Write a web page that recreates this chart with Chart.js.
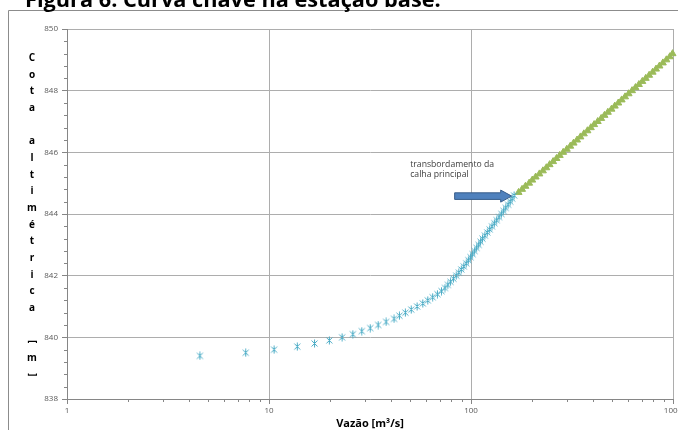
<!DOCTYPE html>
<html>
<head>
<meta charset="utf-8">
<script src="https://cdn.jsdelivr.net/npm/chart.js@4/dist/chart.umd.min.js"></script>
<style>
  html, body { margin: 0; padding: 0; background: #ffffff; }
  canvas { display: block; }
</style>
</head>
<body>
<canvas id="chart" width="678" height="430"></canvas>
<script>
// Stage (m) and discharge (m³/s) of the rating curve, main channel
const stageChannel = [
  839.4, 839.5, 839.6, 839.7, 839.8, 839.9, 840.0, 840.1, 840.2, 840.3,
  840.4, 840.5, 840.6, 840.7, 840.8, 840.9, 841.0, 841.1, 841.2, 841.3,
  841.4, 841.5, 841.6, 841.7, 841.8, 841.9, 842.0, 842.1, 842.2, 842.3,
  842.4, 842.5, 842.6, 842.7, 842.8, 842.9, 843.0, 843.1, 843.2, 843.3,
  843.4, 843.5, 843.6, 843.7, 843.8, 843.9, 844.0, 844.1, 844.2, 844.3,
  844.4, 844.5, 844.6
];
const flowChannel = [
  4.55, 7.67, 10.6, 13.8, 16.8, 19.9, 23.0, 26.0, 28.8, 31.7,
  34.7, 38.0, 41.6, 44.2, 47.3, 50.6, 54.1, 57.7, 61.1, 64.6,
  68.2, 71.4, 74.3, 76.8, 79.2, 81.8, 84.5, 87.0, 89.5, 92.1,
  94.7, 97.0, 99.5, 101.8, 104.2, 106.6, 109.1, 111.5, 114.0, 117.1,
  120.4, 123.7, 127.0, 130.5, 134.0, 137.6, 141.3, 145.0, 148.6, 152.6,
  156.4, 159.9, 163.4
];

// Stage and discharge above bankfull (overflow of the main channel)
const stageOverflow = [
  844.7, 844.8, 844.9, 845.0, 845.1, 845.2, 845.3, 845.4, 845.5, 845.6,
  845.7, 845.8, 845.9, 846.0, 846.1, 846.2, 846.3, 846.4, 846.5, 846.6,
  846.7, 846.8, 846.9, 847.0, 847.1, 847.2, 847.3, 847.4, 847.5, 847.6,
  847.7, 847.8, 847.9, 848.0, 848.1, 848.2, 848.3, 848.4, 848.5, 848.6,
  848.7, 848.8, 848.9, 849.0, 849.1, 849.2
];
const flowOverflow = [
  172, 179, 186, 194, 201, 209, 218, 227, 236, 245,
  255, 265, 275, 286, 298, 310, 322, 335, 348, 362,
  377, 392, 407, 424, 441, 458, 476, 496, 515, 536,
  557, 579, 603, 627, 652, 678, 705, 733, 762, 793,
  824, 857, 891, 927, 964, 995
];

// Axis ticks
const stageTicks = [838, 840, 842, 844, 846, 848, 850];
const flowTicks = [1, 10, 100, 1000];

// Texts
const figureTitle = 'Figura 6. Curva chave na estação base.';
const yTitle = 'Cota altimétrica [m]';
const xTitle = 'Vazão [m³/s]';
const noteLines = ['transbordamento da', 'calha principal'];

// Arrow / note anchors in data units
const noteAnchor = { q: 50, h: [845.62, 845.28] };
const arrowSpan = { qFrom: 83, qTo: 159, h: 844.58 };

// Star marker: an X crossed by a vertical stroke
const starMarker = (() => {
  const c = document.createElement('canvas');
  c.width = 9; c.height = 9;
  const g = c.getContext('2d');
  g.strokeStyle = '#4BACC6';
  g.lineWidth = 1;
  g.beginPath();
  g.moveTo(1.5, 1.5); g.lineTo(7.5, 7.5);
  g.moveTo(7.5, 1.5); g.lineTo(1.5, 7.5);
  g.moveTo(4.5, 0.5); g.lineTo(4.5, 8.5);
  g.stroke();
  return c;
})();

const decorations = {
  id: 'decorations',
  beforeDraw(chart) {
    const ctx = chart.ctx;
    ctx.save();
    ctx.fillStyle = '#ffffff';
    ctx.fillRect(0, 0, chart.width, chart.height);
    // outer frame
    ctx.strokeStyle = '#8C8C8C';
    ctx.lineWidth = 1;
    ctx.beginPath();
    ctx.moveTo(8.5, 430);
    ctx.lineTo(8.5, 10.5);
    ctx.lineTo(678, 10.5);
    ctx.stroke();
    // figure caption
    const probe = 'Figura 6. Curva chave na estação b';
    ctx.font = 'bold 20px "Open Sans"';
    const size = 20 * 373 / ctx.measureText(probe).width;
    ctx.font = 'bold ' + size.toFixed(2) + 'px "Open Sans"';
    ctx.fillStyle = '#000000';
    ctx.textBaseline = 'alphabetic';
    ctx.textAlign = 'left';
    ctx.fillText(figureTitle, 25, 6.5);
    ctx.restore();
  },
  afterDraw(chart) {
    const ctx = chart.ctx;
    const xs = chart.scales.x, ys = chart.scales.y;
    const area = chart.chartArea;
    ctx.save();
    // minor ticks
    ctx.strokeStyle = '#868686';
    ctx.lineWidth = 1;
    ctx.beginPath();
    for (const d of [1, 10, 100]) {
      for (let m = 2; m <= 9; m++) {
        const px = Math.round(xs.getPixelForValue(d * m)) + 0.5;
        ctx.moveTo(px, area.bottom);
        ctx.lineTo(px, area.bottom + 3);
      }
    }
    for (let k = 1; k < 30; k++) {
      if (k % 5 === 0) continue;
      const v = 838 + k * 0.4;
      const py = Math.round(ys.getPixelForValue(v)) + 0.5;
      ctx.moveTo(area.left - 3, py);
      ctx.lineTo(area.left, py);
    }
    ctx.stroke();

    // stacked vertical axis title: one glyph per row, brackets turned
    ctx.fillStyle = '#000000';
    ctx.font = 'bold 10px "Open Sans"';
    ctx.textAlign = 'center';
    ctx.textBaseline = 'middle';
    const rowTop = 58, rowBottom = 375;
    const glyphs = Array.from(yTitle);
    const step = (rowBottom - rowTop) / (glyphs.length - 1);
    glyphs.forEach((ch, i) => {
      const y = rowTop + i * step;
      if (ch === ' ') return;
      if (ch === '[' || ch === ']') {
        ctx.save();
        ctx.translate(32, y);
        ctx.rotate(Math.PI / 2);
        ctx.fillText(ch, 0, 0);
        ctx.restore();
      } else {
        ctx.fillText(ch, 32, y);
      }
    });

    // annotation text
    ctx.font = '10px "Open Sans"';
    const ns = 10 * 84 / ctx.measureText(noteLines[0]).width;
    ctx.font = ns.toFixed(2) + 'px "Open Sans"';
    ctx.fillStyle = '#404040';
    ctx.textAlign = 'left';
    const nx = xs.getPixelForValue(noteAnchor.q);
    noteLines.forEach((t, i) => ctx.fillText(t, nx, ys.getPixelForValue(noteAnchor.h[i])));

    // block arrow
    const x0 = xs.getPixelForValue(arrowSpan.qFrom);
    const x1 = xs.getPixelForValue(arrowSpan.qTo);
    const cy = ys.getPixelForValue(arrowSpan.h);
    const head = 11, shaft = 3.3, wing = 6;
    ctx.beginPath();
    ctx.moveTo(x0, cy - shaft);
    ctx.lineTo(x1 - head, cy - shaft);
    ctx.lineTo(x1 - head, cy - wing);
    ctx.lineTo(x1, cy);
    ctx.lineTo(x1 - head, cy + wing);
    ctx.lineTo(x1 - head, cy + shaft);
    ctx.lineTo(x0, cy + shaft);
    ctx.closePath();
    ctx.fillStyle = '#4F81BD';
    ctx.fill();
    ctx.strokeStyle = '#385D8A';
    ctx.lineWidth = 1;
    ctx.stroke();
    ctx.restore();
  }
};

new Chart(document.getElementById('chart'), {
  type: 'scatter',
  data: {
    datasets: [
      {
        label: 'calha principal',
        data: flowChannel.map((q, i) => ({ x: q, y: stageChannel[i] })),
        pointStyle: starMarker,
        pointRadius: 4,
        borderColor: '#4BACC6',
        backgroundColor: '#4BACC6',
        showLine: false,
        clip: false
      },
      {
        label: 'transbordamento',
        data: flowOverflow.map((q, i) => ({ x: q, y: stageOverflow[i] })),
        pointStyle: 'triangle',
        pointRadius: 4,
        borderWidth: 1,
        borderColor: '#9BBB59',
        backgroundColor: '#9BBB59',
        showLine: false,
        clip: false
      }
    ]
  },
  options: {
    responsive: false,
    devicePixelRatio: 1,
    animation: false,
    events: [],
    layout: { padding: { top: 29, right: 5, left: 0, bottom: 0 } },
    plugins: {
      legend: { display: false },
      tooltip: { enabled: false },
      title: { display: false }
    },
    scales: {
      x: {
        type: 'logarithmic',
        min: 1,
        max: 1000,
        afterBuildTicks(scale) { scale.ticks = flowTicks.map(v => ({ value: v })); },
        afterFit(scale) { scale.height = 31; scale.paddingLeft = 0; scale.paddingRight = 0; },
        ticks: {
          autoSkip: false,
          maxRotation: 0,
          padding: 2,
          color: '#595959',
          font: { family: 'Open Sans', size: 8 },
          callback: v => String(v)
        },
        grid: { color: '#ADADAD', lineWidth: 1, drawTicks: true, tickLength: 5, tickColor: '#868686' },
        border: { display: true, color: '#868686', width: 1 },
        title: {
          display: true,
          text: xTitle,
          color: '#000000',
          font: { family: 'Open Sans', size: 11, weight: 'bold', lineHeight: 1.1 },
          padding: { top: 0, bottom: 0 }
        }
      },
      y: {
        type: 'linear',
        min: 838,
        max: 850,
        afterBuildTicks(scale) { scale.ticks = stageTicks.map(v => ({ value: v })); },
        afterFit(scale) { scale.width = 67; scale.paddingTop = 0; scale.paddingBottom = 0; },
        ticks: {
          padding: 4,
          color: '#595959',
          font: { family: 'Open Sans', size: 8 },
          callback: v => String(v)
        },
        grid: { color: '#ADADAD', lineWidth: 1, drawTicks: true, tickLength: 5, tickColor: '#868686' },
        border: { display: true, color: '#868686', width: 1 }
      }
    }
  },
  plugins: [decorations]
});
</script>
</body>
</html>
